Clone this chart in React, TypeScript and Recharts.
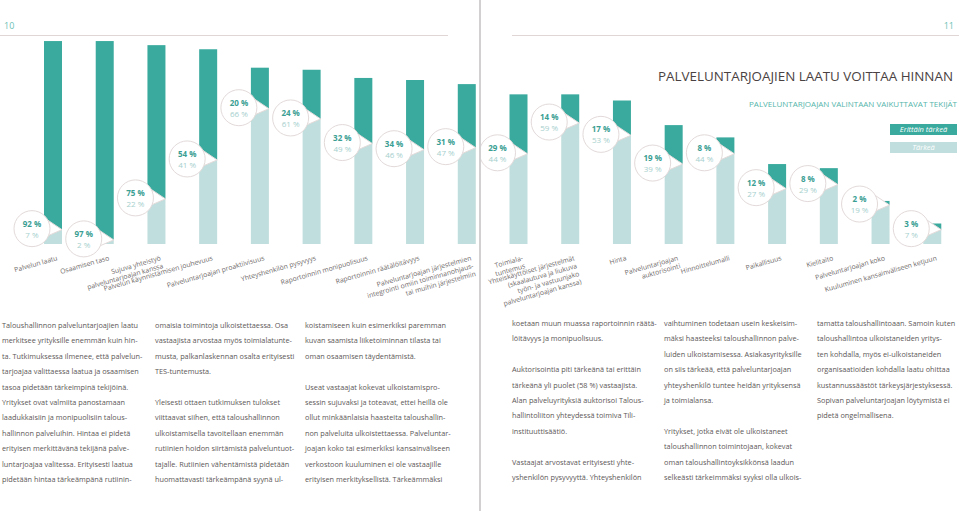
import React from "react";
import { BarChart, Bar, XAxis, YAxis } from "recharts";

const DARK = "#3aaa9e";
const LIGHT = "#c0dedd";
const RING = "#e3dada";
const TEXT = "#5c5757";

const categories = [
  "Palvelun laatu",
  "Osaamisen taso",
  "Sujuva yhteistyö\npalveluntarjoajan kanssa",
  "Palvelun käynnistämisen jouhevuus",
  "Palveluntarjoajan proaktiivisuus",
  "Yhteyshenkilön pysyvyys",
  "Raportoinnin monipuolisuus",
  "Raportoinnin räätälöitävyys",
  "Palveluntarjoajan järjestelmien\nintegrointi omiin toiminnanohjaus-\ntai muihin järjestelmiin",
  "Toimiala-\ntuntemus",
  "Yhteiskäyttöiset järjestelmät\n(skaalautuva ja liukuva\ntyön- ja vastuunjako\npalveluntarjoajan kanssa)",
  "Hinta",
  "Palveluntarjoajan\nauktorisointi",
  "Hinnoittelumalli",
  "Paikallisuus",
  "Kielitaito",
  "Palveluntarjoajan koko",
  "Kuuluminen kansainväliseen ketjuun",
];

const erittainTarkea = [92, 97, 75, 54, 20, 24, 32, 34, 31, 29, 14, 17, 19, 8, 12, 8, 2, 3];
const tarkea = [7, 2, 22, 41, 66, 61, 49, 46, 47, 44, 59, 53, 39, 44, 27, 29, 19, 7];

const data = categories.map((name, i) => ({
  name,
  erittain: erittainTarkea[i],
  tarkea: tarkea[i],
}));

const leftColumns = [
  [
    "Taloushallinnon palveluntarjoajien laatu",
    "merkitsee yrityksille enemmän kuin hin-",
    "ta. Tutkimuksessa ilmenee, että palvelun-",
    "tarjoajaa valittaessa laatua ja osaamisen",
    "tasoa pidetään tärkeimpinä tekijöinä.",
    "Yritykset ovat valmiita panostamaan",
    "laadukkaisiin ja monipuolisiin talous-",
    "hallinnon palveluihin. Hintaa ei pidetä",
    "erityisen merkittävänä tekijänä palve-",
    "luntarjoajaa valitessa. Erityisesti laatua",
    "pidetään hintaa tärkeämpänä rutiinin-",
  ],
  [
    "omaisia toimintoja ulkoistettaessa. Osa",
    "vastaajista arvostaa myös toimialatunte-",
    "musta, palkanlaskennan osalta erityisesti",
    "TES-tuntemusta.",
    "",
    "Yleisesti ottaen tutkimuksen tulokset",
    "viittaavat siihen, että taloushallinnon",
    "ulkoistamisella tavoitellaan enemmän",
    "rutiinien hoidon siirtämistä palveluntuot-",
    "tajalle. Rutiinien vähentämistä pidetään",
    "huomattavasti tärkeämpänä syynä ul-",
  ],
  [
    "koistamiseen kuin esimerkiksi paremman",
    "kuvan saamista liiketoiminnan tilasta tai",
    "oman osaamisen täydentämistä.",
    "",
    "Useat vastaajat kokevat ulkoistamispro-",
    "sessin sujuvaksi ja toteavat, ettei heillä ole",
    "ollut minkäänlaisia haasteita taloushallin-",
    "non palveluita ulkoistettaessa. Palveluntar-",
    "joajan koko tai esimerkiksi kansainväliseen",
    "verkostoon kuuluminen ei ole vastaajille",
    "erityisen merkityksellistä. Tärkeämmäksi",
  ],
];

const rightColumns = [
  [
    "koetaan muun muassa raportoinnin räätä-",
    "löitävyys ja monipuolisuus.",
    "",
    "Auktorisointia piti tärkeänä tai erittäin",
    "tärkeänä yli puolet (58 %) vastaajista.",
    "Alan palveluyrityksiä auktorisoi Talous-",
    "hallintoliiton yhteydessä toimiva Tili-",
    "instituuttisäätiö.",
    "",
    "Vastaajat arvostavat erityisesti yhte-",
    "yshenkilön pysyvyyttä. Yhteyshenkilön",
  ],
  [
    "vaihtuminen todetaan usein keskeisim-",
    "mäksi haasteeksi taloushallinnon palve-",
    "luiden ulkoistamisessa. Asiakasyrityksille",
    "on siis tärkeää, että palveluntarjoajan",
    "yhteyshenkilö tuntee heidän yrityksensä",
    "ja toimialansa.",
    "",
    "Yritykset, jotka eivät ole ulkoistaneet",
    "taloushallinnon toimintojaan, kokevat",
    "oman taloushallintoyksikkönsä laadun",
    "selkeästi tärkeimmäksi syyksi olla ulkois-",
  ],
  [
    "tamatta taloushallintoaan. Samoin kuten",
    "taloushallintoa ulkoistaneiden yritys-",
    "ten kohdalla, myös ei-ulkoistaneiden",
    "organisaatioiden kohdalla laatu ohittaa",
    "kustannussäästöt tärkeysjärjestyksessä.",
    "Sopivan palveluntarjoajan löytymistä ei",
    "pidetä ongelmallisena.",
  ],
];

function CategoryTick(props: any) {
  const { x, y, payload } = props;
  const lines = String(payload.value).split("\n");
  return (
    <g transform={`translate(${x + 5},${y + 8}) rotate(-16)`}>
      <text textAnchor="end" fontSize={6.8} fill="#6f6a6a" fontFamily="'Open Sans', sans-serif">
        {lines.map((l, i) => (
          <tspan key={i} x={0} dy={i === 0 ? 0 : 8.2}>
            {l}
          </tspan>
        ))}
      </text>
    </g>
  );
}

function TopBar(props: any) {
  const { x, y, width, height, payload } = props;
  const split = y + height;
  const cx = x - 12;
  const cy = split - 1;
  const r = 18;
  const a1 = (-28 * Math.PI) / 180;
  const a2 = (22 * Math.PI) / 180;
  const p1 = `${cx + r * Math.cos(a1)},${cy + r * Math.sin(a1)}`;
  const p2 = `${cx + r * Math.cos(a2)},${cy + r * Math.sin(a2)}`;
  return (
    <g>
      <rect x={x} y={y} width={width} height={height} fill={DARK} />
      <path d={`M${p1} L${x + width},${split} L${p2} Z`} fill="#fff" stroke={RING} strokeWidth={1} />
      <circle cx={cx} cy={cy} r={r} fill="#fff" stroke={RING} strokeWidth={1} />
      <text x={cx} y={cy - 2} textAnchor="middle" fontSize={8} fontWeight={700} fill="#3a9e93" fontFamily="'Open Sans', sans-serif">
        {payload.erittain} %
      </text>
      <text x={cx} y={cy + 9} textAnchor="middle" fontSize={8} fill="#a6cfcd" fontFamily="'Open Sans', sans-serif">
        {payload.tarkea} %
      </text>
    </g>
  );
}

function Column({ lines, left, top }: { lines: string[]; left: number; top: number }) {
  return (
    <div style={{ position: "absolute", left, top, fontSize: 7.3, lineHeight: "15.4px", color: TEXT, whiteSpace: "nowrap" }}>
      {lines.map((l, i) => (
        <div key={i} style={{ height: 15.4 }}>{l}</div>
      ))}
    </div>
  );
}

export default function App() {
  return (
    <div
      style={{
        position: "absolute",
        left: 0,
        top: 0,
        width: 959,
        height: 511,
        background: "#fff",
        overflow: "hidden",
        fontFamily: "'Open Sans', sans-serif",
      }}
    >
      <div style={{ position: "absolute", left: 4, top: 19, fontSize: 9, color: "#6cbfb5" }}>10</div>
      <div style={{ position: "absolute", right: 5, top: 19, fontSize: 9, color: "#6cbfb5" }}>11</div>
      <div style={{ position: "absolute", left: 0, top: 35, width: 448, height: 1, background: "#e0d6d6" }} />
      <div style={{ position: "absolute", left: 512, top: 35, width: 447, height: 1, background: "#e0d6d6" }} />

      <div style={{ position: "absolute", left: 0, top: 0 }}>
        <BarChart width={959} height={310} data={data} margin={{ top: 39, right: 1, left: 27, bottom: 0 }}>
          <XAxis dataKey="name" interval={0} axisLine={false} tickLine={false} height={66} tick={<CategoryTick />} />
          <YAxis hide domain={[0, 100]} />
          <Bar dataKey="tarkea" name="Tärkeä" stackId="a" fill={LIGHT} barSize={18} isAnimationActive={false} />
          <Bar
            dataKey="erittain"
            name="Erittäin tärkeä"
            stackId="a"
            fill={DARK}
            barSize={18}
            isAnimationActive={false}
            shape={(p: any) => <TopBar {...p} />}
          />
        </BarChart>
      </div>

      <svg width={959} height={120} style={{ position: "absolute", left: 0, top: 0 }}>
        <text x={658} y={81} fontSize={13.5} fill="#4a4242" textLength={295} lengthAdjust="spacingAndGlyphs">
          PALVELUNTARJOAJIEN LAATU VOITTAA HINNAN
        </text>
        <text x={749} y={107} fontSize={7.5} fill="#55b5aa" textLength={208} lengthAdjust="spacingAndGlyphs">
          PALVELUNTARJOAJAN VALINTAAN VAIKUTTAVAT TEKIJÄT
        </text>
      </svg>

      <div style={{ position: "absolute", left: 890, top: 124, width: 67, height: 11, background: DARK, color: "#fff", fontSize: 7.5, fontStyle: "italic", textAlign: "center", lineHeight: "11px" }}>
        Erittäin tärkeä
      </div>
      <div style={{ position: "absolute", left: 890, top: 142, width: 67, height: 11, background: LIGHT, color: "#fff", fontSize: 7.5, fontStyle: "italic", textAlign: "center", lineHeight: "11px" }}>
        Tärkeä
      </div>

      <div style={{ position: "absolute", left: 479, top: 0, width: 2, height: 511, background: "#d2d0d0" }} />

      <Column lines={leftColumns[0]} left={2} top={318} />
      <Column lines={leftColumns[1]} left={155} top={318} />
      <Column lines={leftColumns[2]} left={305} top={318} />
      <Column lines={rightColumns[0]} left={512} top={316} />
      <Column lines={rightColumns[1]} left={664} top={316} />
      <Column lines={rightColumns[2]} left={817} top={316} />
    </div>
  );
}
